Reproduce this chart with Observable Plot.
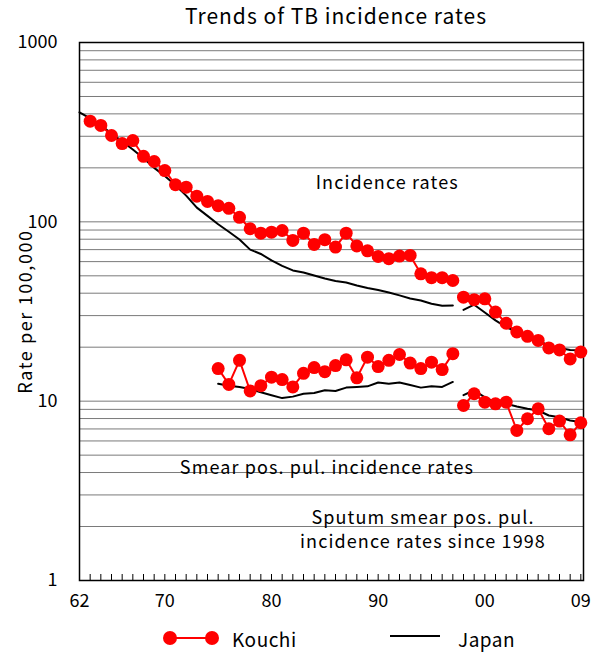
<!DOCTYPE html>
<html>
<head>
<meta charset="utf-8">
<script src="https://cdn.jsdelivr.net/npm/d3@7"></script>
<script src="https://cdn.jsdelivr.net/npm/@observablehq/plot@0.6"></script>
<style>
  html, body { margin: 0; padding: 0; background: #fff; }
  body { width: 592px; height: 653px; position: relative; overflow: hidden;
         font-family: "Noto Sans CJK JP", sans-serif; color: #000; }
  #title { height: 26px; line-height: 30px; margin-left: 84px; width: 504px; text-align: center; font-size: 21px; letter-spacing: 1px; }
  #legend { position: relative; height: 28px; font-size: 19px; letter-spacing: 0.5px; }
  #legend .item { position: absolute; top: 0; height: 28px; line-height: 28px; }
  #chart svg g[aria-label="y-axis label"] text { font-size: 18px; letter-spacing: 1.6px; }
  #chart svg g[aria-label="text"] text { letter-spacing: 1.1px; }
</style>
</head>
<body>
<div id="title">Trends of TB incidence rates</div>
<div id="chart"></div>
<div id="legend">
  <svg class="item" style="left:160px" width="62" height="28"><line x1="10" x2="52" y1="13" y2="13" stroke="red" stroke-width="2"/><circle cx="10" cy="13" r="7" fill="red"/><circle cx="52" cy="13" r="7" fill="red"/></svg>
  <span class="item" style="left:232px">Kouchi</span>
  <svg class="item" style="left:388px" width="56" height="28"><line x1="2" x2="52" y1="11" y2="11" stroke="black" stroke-width="2"/></svg>
  <span class="item" style="left:458px">Japan</span>
</div>
<script>
// ---- data ----
const kouchiIncYears1 = d3.range(1963, 1998);
const kouchiInc1 = [364,345,303,273,284,232,217,193,161,156,139,130,123,119,106,91.5,86.5,87.6,
                    89.5,78.8,86.5,74.8,79.5,72.3,86.5,73.4,68.9,64.1,62.3,64.4,65.0,51.3,48.8,48.8,47.1];
const kouchiIncYears2 = d3.range(1998, 2010);
const kouchiInc2 = [38.0,36.8,37.2,31.4,27.2,24.3,23.0,21.8,19.8,19.3,17.2,18.8];

const japanIncYears1 = d3.range(1962, 1998);
const japanInc1 = [408,377,345,311,281,253,226,200,180,160,140,120,108,97,88,79.7,70,66.2,60.9,56.8,
                   53.6,52.2,50.2,48.3,46.8,45.9,44.2,42.8,41.7,40.4,38.9,37.4,36.4,34.9,34.0,34.2];
const japanIncYears2 = d3.range(1998, 2010);
const japanInc2 = [32.3,34.5,31.2,28.2,25.9,24.3,22.9,21.8,20.4,19.8,19.3,19.2];

const smearYears1 = d3.range(1975, 1998);
const kouchiSmear1 = [15.2,12.4,16.9,11.4,12.2,13.6,13.2,12.0,14.3,15.4,14.6,15.8,17.0,13.5,17.6,15.6,16.9,18.2,16.3,15.2,16.5,15.0,18.4];
const japanSmear1 = [12.5,12.2,12.0,11.7,11.2,10.8,10.4,10.6,11.0,11.1,11.5,11.4,11.9,12.0,12.1,12.7,12.5,12.7,12.3,11.9,12.1,12.0,12.8];
const smearYears2 = d3.range(1998, 2010);
const kouchiSmear2 = [9.46,11.0,9.87,9.67,9.87,6.87,7.98,9.07,7.02,7.74,6.49,7.58];
const japanSmear2 = [10.8,11.5,10.5,9.87,9.67,9.34,9.07,8.87,8.32,8.14,7.80,7.64];

const xTickYears = [1962, 1970, 1980, 1990, 2000, 2009];
const xTickLabels = ["62", "70", "80", "90", "00", "09"];
const yTickValues = [1, 10, 100, 1000];
const gridValues = [2,3,4,5,6,7,8,9,10,20,30,40,50,60,70,80,90,100,200,300,400,500,600,700,800,900,1000];
const minorYears = d3.range(1962, 2010);

// ---- build tables ----
function rows(years, values, seg) { return years.map((yr, i) => ({year: yr, value: values[i], seg})); }
const kouchi = [
  ...rows(kouchiIncYears1, kouchiInc1, "inc1"), ...rows(kouchiIncYears2, kouchiInc2, "inc2"),
  ...rows(smearYears1, kouchiSmear1, "sm1"), ...rows(smearYears2, kouchiSmear2, "sm2")
];
const japan = [
  ...rows(japanIncYears1, japanInc1, "inc1"), ...rows(japanIncYears2, japanInc2, "inc2"),
  ...rows(smearYears1, japanSmear1, "sm1"), ...rows(smearYears2, japanSmear2, "sm2")
];
const notes = [
  {text: "Incidence rates", year: 1990.85, value: 168},
  {text: "Smear pos. pul. incidence rates", year: 1985.2, value: 4.32},
  {text: "Sputum smear pos. pul.\nincidence rates since 1998", year: 1994.2, value: 1.95}
];

const chart = Plot.plot({
  width: 592, height: 599,
  marginLeft: 79, marginRight: 9, marginTop: 16, marginBottom: 45,
  style: {fontFamily: '"Noto Sans CJK JP", sans-serif', fontSize: "18px", color: "#000", background: "#fff"},
  x: {domain: [1962, 2009.25]},
  y: {type: "log", domain: [1, 1000]},
  marks: [
    Plot.ruleY(gridValues, {stroke: "#7a7a7a", strokeWidth: 1}),
    Plot.ruleX(minorYears, {insetTop: 532, stroke: "#000", strokeWidth: 1}),
    Plot.frame({stroke: "#000", strokeWidth: 1.5}),
    Plot.axisY({ticks: yTickValues, tickFormat: d => String(d), tickSize: 0, tickPadding: 22,
                label: "Rate per 100,000", labelAnchor: "center", labelArrow: "none", labelOffset: 60, fontSize: 18}),
    Plot.axisX({ticks: xTickYears, tickFormat: d => xTickLabels[xTickYears.indexOf(d)], tickSize: 0, tickPadding: 14, label: null, fontSize: 18}),
    Plot.line(japan, {x: "year", y: "value", z: "seg", stroke: "#000", strokeWidth: 2}),
    Plot.line(kouchi, {x: "year", y: "value", z: "seg", stroke: "red", strokeWidth: 2}),
    Plot.dot(kouchi, {x: "year", y: "value", r: 6.5, fill: "red"}),
    Plot.text(notes, {x: "year", y: "value", text: "text", fontSize: 18, lineHeight: 1.33, fill: "#000"})
  ]
});
document.getElementById("chart").appendChild(chart);
</script>
</body>
</html>
